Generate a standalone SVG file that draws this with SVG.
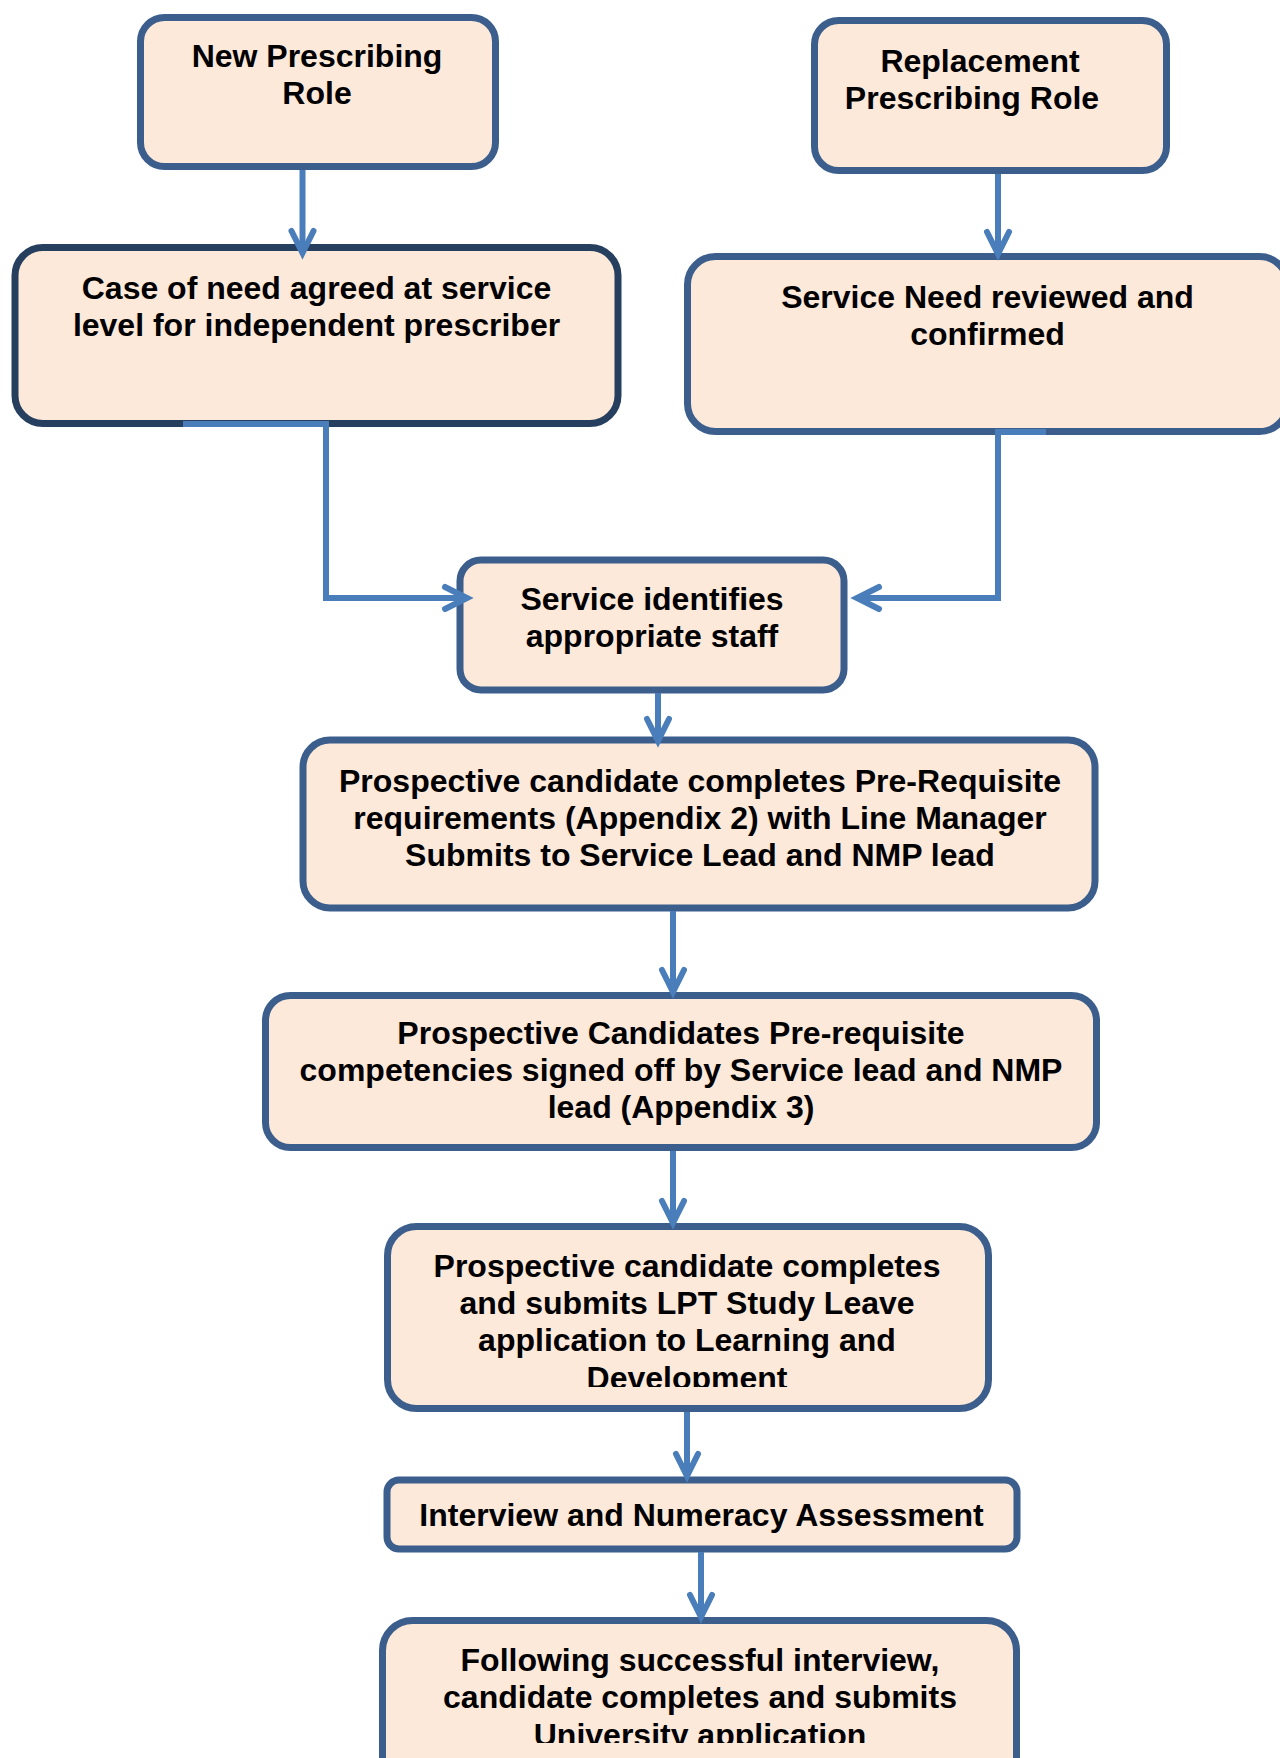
<svg xmlns="http://www.w3.org/2000/svg" width="1280" height="1758" viewBox="0 0 1280 1758">
<style>
.box{fill:#FDE9D9;stroke:#3B5E8C;stroke-width:7}
.dark{stroke:#263F5E}
.t{font-family:"Liberation Sans",Arial,sans-serif;font-weight:bold;font-size:32px;fill:#000;text-anchor:middle}
.c{fill:none;stroke:#4A7EBB;stroke-width:6}
</style>
<defs>
<marker id="ah" markerUnits="userSpaceOnUse" markerWidth="40" markerHeight="40" refX="0" refY="0" viewBox="-30 -20 40 40" orient="auto" overflow="visible">
<path d="M-22,-11 L0,0 L-22,11" fill="none" stroke="#4A7EBB" stroke-width="6" stroke-linecap="round" stroke-linejoin="miter"/>
</marker>
<clipPath id="clipLPT"><rect x="380" y="1220" width="620" height="167"/></clipPath>
<clipPath id="clipFol"><rect x="375" y="1610" width="660" height="133"/></clipPath>
</defs>

<g id="n1">
<rect class="box" x="140.5" y="17.5" width="355" height="149" rx="24"/>
<text class="t" x="317" y="67">New Prescribing</text>
<text class="t" x="317" y="104">Role</text>
</g>
<g id="n2">
<rect class="box" x="814.5" y="20.5" width="352" height="150" rx="24"/>
<text class="t" x="980" y="72">Replacement</text>
<text class="t" x="972" y="109">Prescribing Role</text>
</g>
<g id="n3">
<rect class="box dark" x="15" y="247.5" width="603" height="176" rx="28"/>
<text class="t" x="316.5" y="299">Case of need agreed at service</text>
<text class="t" x="316.5" y="336">level for independent prescriber</text>
</g>
<g id="n4">
<rect class="box" x="687.5" y="256.5" width="600" height="175" rx="28"/>
<text class="t" x="987.5" y="308">Service Need reviewed and</text>
<text class="t" x="987.5" y="345">confirmed</text>
</g>
<g id="n5">
<rect class="box" x="460" y="560" width="384" height="130" rx="21"/>
<text class="t" x="652" y="610">Service identifies</text>
<text class="t" x="652" y="647">appropriate staff</text>
</g>
<g id="n6">
<rect class="box" x="303" y="740" width="792" height="168" rx="27"/>
<text class="t" x="700" y="792">Prospective candidate completes Pre-Requisite</text>
<text class="t" x="700" y="829">requirements (Appendix 2) with Line Manager</text>
<text class="t" x="700" y="866">Submits to Service Lead and NMP lead</text>
</g>
<g id="n7">
<rect class="box" x="265.5" y="995.5" width="831" height="152" rx="25"/>
<text class="t" x="681" y="1044">Prospective Candidates Pre-requisite</text>
<text class="t" x="681" y="1081">competencies signed off by Service lead and NMP</text>
<text class="t" x="681" y="1118">lead (Appendix 3)</text>
</g>
<g id="n8">
<rect class="box" x="387.5" y="1226.5" width="601" height="182" rx="29"/>
<g clip-path="url(#clipLPT)">
<text class="t" x="687" y="1277">Prospective candidate completes</text>
<text class="t" x="687" y="1314">and submits LPT Study Leave</text>
<text class="t" x="687" y="1351">application to Learning and</text>
<text class="t" x="687" y="1389">Development</text>
</g>
</g>
<g id="n9">
<rect class="box" x="387" y="1480" width="630" height="69" rx="12"/>
<text class="t" x="701.5" y="1526">Interview and Numeracy Assessment</text>
</g>
<g id="n10">
<rect class="box" x="382.5" y="1620.5" width="634" height="200" rx="30"/>
<g clip-path="url(#clipFol)">
<text class="t" x="700" y="1671">Following successful interview,</text>
<text class="t" x="700" y="1708">candidate completes and submits</text>
<text class="t" x="700" y="1746">University application</text>
</g>
</g>

<g id="connectors">
<path class="c" d="M302.5,170 V253" marker-end="url(#ah)"/>
<path class="c" d="M998,174 V254" marker-end="url(#ah)"/>
<path class="c" d="M183,424 H326 V598 H467" marker-end="url(#ah)"/>
<path class="c" d="M1046,432 H998 V598 H857" marker-end="url(#ah)"/>
<path class="c" d="M658,693 V741" marker-end="url(#ah)"/>
<path class="c" d="M673,911 V992" marker-end="url(#ah)"/>
<path class="c" d="M673,1151 V1223" marker-end="url(#ah)"/>
<path class="c" d="M687,1412 V1476" marker-end="url(#ah)"/>
<path class="c" d="M701,1552 V1617" marker-end="url(#ah)"/>
</g>
</svg>
